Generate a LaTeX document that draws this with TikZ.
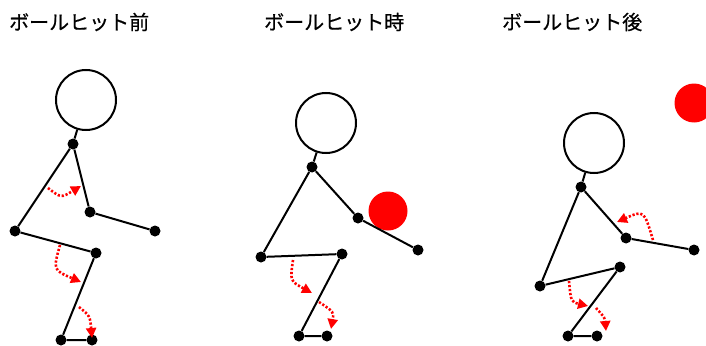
\documentclass[tikz,border=0pt]{standalone}
\usepackage{fontspec}
\newfontfamily\jpfont[FakeBold=0.6]{Noto Sans CJK JP}
\usetikzlibrary{arrows.meta}
\definecolor{ballred}{RGB}{255,0,0}
\begin{document}
\begin{tikzpicture}[x=1pt,y=-1pt,
  joint/.style={circle,fill=black,inner sep=0pt,minimum size=11pt},
  headc/.style={circle,draw=black,line width=2pt,fill=white,inner sep=0pt,minimum size=60pt},
  limb/.style={line width=2pt,draw=black},
  turn/.style={draw=ballred,line width=2.6pt,dash pattern=on 2.2pt off 1.8pt,
    -{Triangle[length=10pt,width=10pt,fill=ballred]}},
  ball/.style={circle,fill=ballred,inner sep=0pt,minimum size=39pt},
  title/.style={font=\jpfont\fontsize{20pt}{20pt}\selectfont,anchor=west,inner sep=0pt}]
\useasboundingbox (0,0) rectangle (706,345);
\clip (0,0) rectangle (706,345);

% titles
\node[title] (t1) at (9,22) {ボールヒット前};
\node[title] (t2) at (264,22) {ボールヒット時};
\node[title] (t3) at (502,22) {ボールヒット後};

% ---------- before the hit ----------
\node[headc] (h1) at (86,100) {};
\node[joint] (n1) at (73,144) {};
\node[joint] (p1) at (15,231) {};
\node[joint] (k1) at (96,253) {};
\node[joint] (a1) at (61,340) {};
\node[joint] (f1) at (92,340) {};
\node[joint] (e1) at (90,212) {};
\node[joint] (w1) at (155,231) {};
\draw[limb] (h1) -- (n1) -- (p1) -- (k1) -- (a1) -- (f1);
\draw[limb] (n1) -- (e1) -- (w1);
\coordinate (r1a) at (48,188);  \coordinate (r1b) at (81,186);
\coordinate (r2a) at (60,245);  \coordinate (r2b) at (81,282);
\coordinate (r3a) at (79,307);  \coordinate (r3b) at (92,338);
\draw[turn] (r1a) .. controls (61,198) .. (r1b);
\draw[turn] (r2a) .. controls (53,270) .. (r2b);
\draw[turn] (r3a) .. controls (90,316) .. (r3b);

% ---------- at the hit ----------
\node[ball] (b2) at (388,211) {};
\node[headc] (h2) at (326,123) {};
\node[joint] (n2) at (312,167) {};
\node[joint] (p2) at (261,257) {};
\node[joint] (k2) at (342,254) {};
\node[joint] (a2) at (299,336) {};
\node[joint] (f2) at (327,336) {};
\node[joint] (e2) at (358,218) {};
\node[joint] (w2) at (418,250) {};
\draw[limb] (h2) -- (n2) -- (p2) -- (k2) -- (a2) -- (f2);
\draw[limb] (n2) -- (e2) -- (w2);
\coordinate (s1a) at (293,260); \coordinate (s1b) at (312,293);
\coordinate (s2a) at (319,302); \coordinate (s2b) at (331,329);
\draw[turn] (s1a) .. controls (290,281) .. (s1b);
\draw[turn] (s2a) .. controls (334,312) .. (s2b);

% ---------- after the hit ----------
\node[ball] (b3) at (694,103) {};
\node[headc] (h3) at (594,143) {};
\node[joint] (n3) at (581,187) {};
\node[joint] (p3) at (540,286) {};
\node[joint] (k3) at (620,267) {};
\node[joint] (a3) at (568,336) {};
\node[joint] (f3) at (597,336) {};
\node[joint] (e3) at (626,238) {};
\node[joint] (w3) at (694,250) {};
\draw[limb] (h3) -- (n3) -- (p3) -- (k3) -- (a3) -- (f3);
\draw[limb] (n3) -- (e3) -- (w3);
\coordinate (u1a) at (653,240); \coordinate (u1b) at (617,222);
\coordinate (u2a) at (569,281); \coordinate (u2b) at (588,306);
\coordinate (u3a) at (596,308); \coordinate (u3b) at (606,331);
\draw[turn] (u1a) .. controls (644,210) .. (u1b);
\draw[turn] (u2a) .. controls (571,302) .. (u2b);
\draw[turn] (u3a) .. controls (605,318) .. (u3b);
\end{tikzpicture}
\end{document}
